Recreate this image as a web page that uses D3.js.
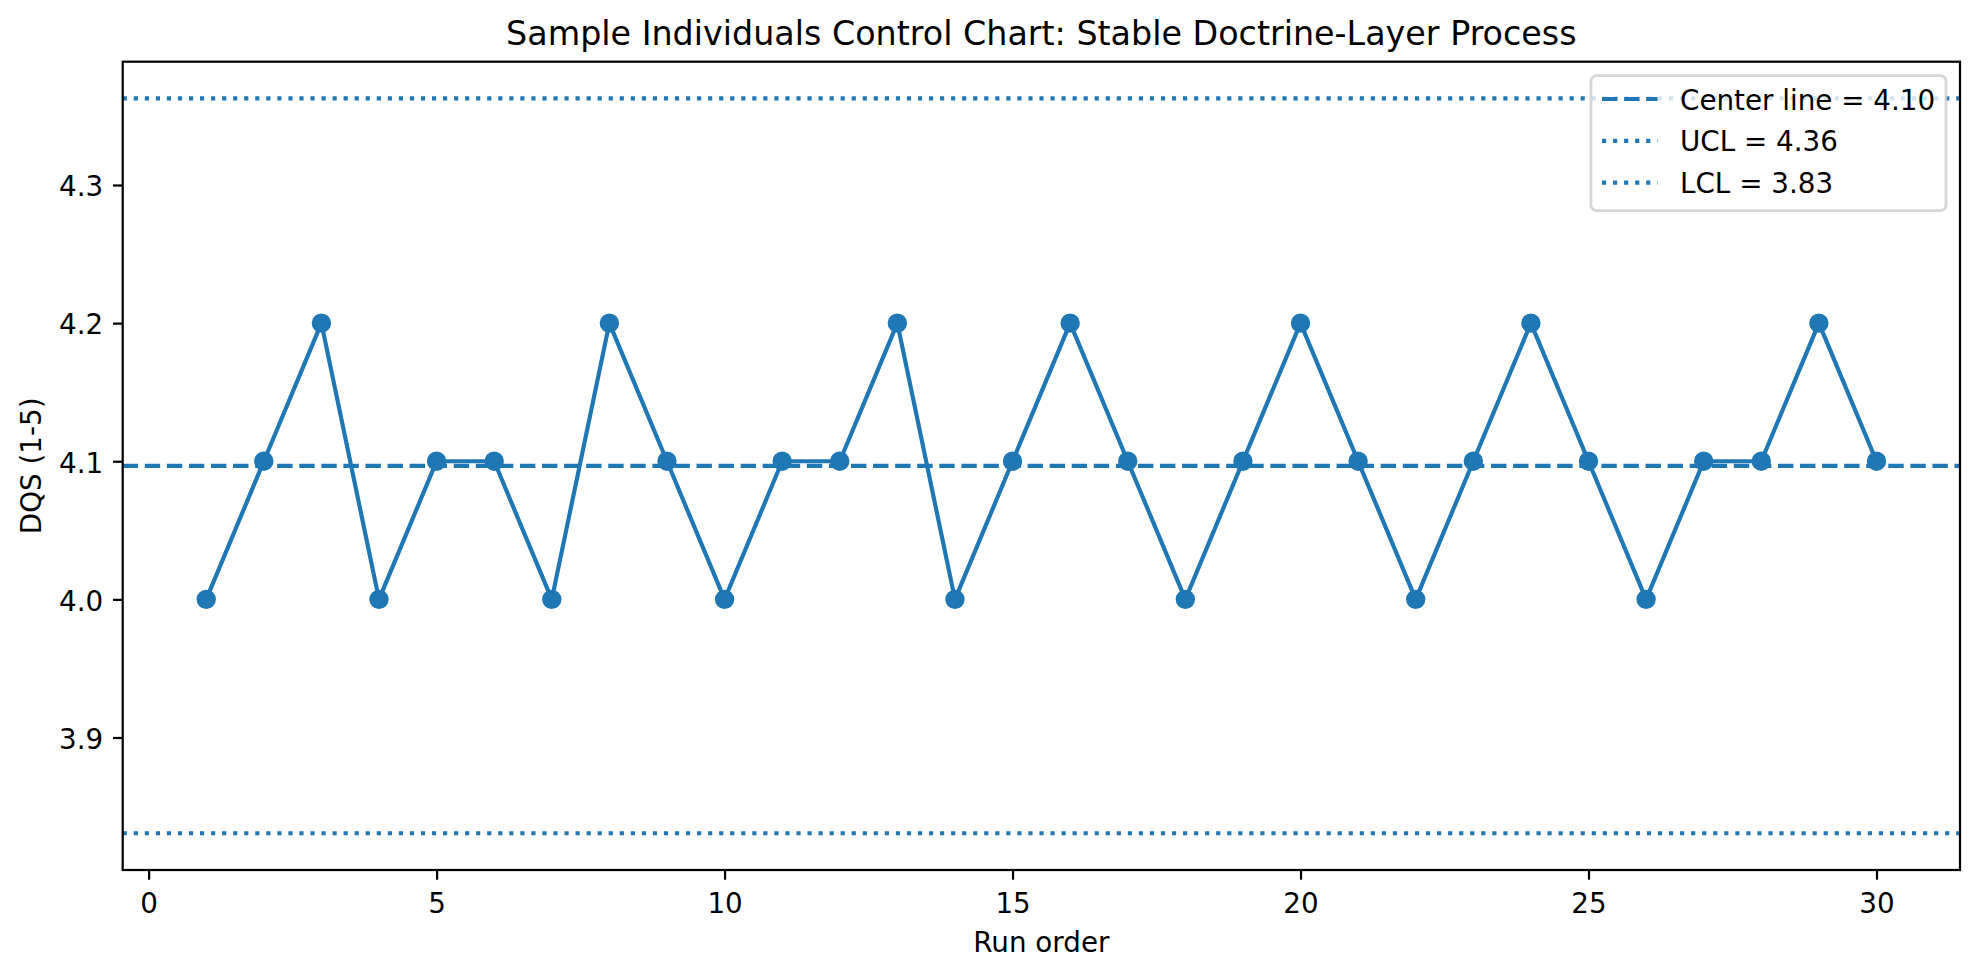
<!DOCTYPE html>
<html><head><meta charset="utf-8">
<script src="https://cdn.jsdelivr.net/npm/d3@7"></script>
<style>
html,body{margin:0;padding:0;background:#fff;}
svg{display:block;}
text{font-family:"DejaVu Sans",sans-serif;fill:#000;}
</style>
</head><body>
<svg id="chart" width="1980" height="977"></svg>
<script>
// ---- data ----
const runOrder = [1,2,3,4,5,6,7,8,9,10,11,12,13,14,15,16,17,18,19,20,21,22,23,24,25,26,27,28,29,30];
const dqsValues = [4.0,4.1,4.2,4.0,4.1,4.1,4.0,4.2,4.1,4.0,4.1,4.1,4.2,4.0,4.1,4.2,4.1,4.0,4.1,4.2,4.1,4.0,4.1,4.2,4.1,4.0,4.1,4.1,4.2,4.1];
const xTicks = [0,5,10,15,20,25,30];
const yTicks = [3.9,4.0,4.1,4.2,4.3];
const limitNames = ["Center line","UCL","LCL"];

const titleText = "Sample Individuals Control Chart: Stable Doctrine-Layer Process";
const xLabel = "Run order";
const yLabel = "DQS (1-5)";

// control limits derived from the data (individuals chart)
const centerLine = d3.mean(dqsValues);
const movingRanges = dqsValues.slice(1).map((v,i)=>Math.abs(v-dqsValues[i]));
const mrBar = d3.mean(movingRanges);
const limitValues = [centerLine, centerLine + 2.66*mrBar, centerLine - 2.66*mrBar];

// ---- layout ----
const color = "#1f77b4";
const plot = {left:122.7, right:1960, top:61.7, bottom:870};
const fs = 27.78;

const svg = d3.select("#chart");

const xPad = 0.05*(d3.max(runOrder)-d3.min(runOrder));
const x = d3.scaleLinear()
  .domain([d3.min(runOrder)-xPad, d3.max(runOrder)+xPad])
  .range([plot.left, plot.right]);
const allY = dqsValues.concat(limitValues);
const yPad = 0.05*(d3.max(allY)-d3.min(allY));
const y = d3.scaleLinear()
  .domain([d3.min(allY)-yPad, d3.max(allY)+yPad])
  .range([plot.bottom, plot.top]);

svg.append("defs").append("clipPath").attr("id","clip")
  .append("rect").attr("x",plot.left).attr("y",plot.top)
  .attr("width",plot.right-plot.left).attr("height",plot.bottom-plot.top);

const g = svg.append("g").attr("clip-path","url(#clip)");

// data line
const pts = runOrder.map((r,i)=>[r,dqsValues[i]]);
g.append("path")
  .datum(pts)
  .attr("d", d3.line().x(d=>x(d[0])).y(d=>y(d[1])))
  .attr("fill","none").attr("stroke",color)
  .attr("stroke-width",4.17).attr("stroke-linejoin","round");
g.selectAll("circle.pt").data(pts).enter().append("circle")
  .attr("class","pt")
  .attr("cx",d=>x(d[0])).attr("cy",d=>y(d[1])).attr("r",8.33)
  .attr("fill",color).attr("stroke",color).attr("stroke-width",2.78);

// limit lines
const dashes = ["15.4,6.67","4.17,6.875","4.17,6.875"];
g.selectAll("line.lim").data(limitValues).enter().append("line")
  .attr("class","lim")
  .attr("x1",plot.left).attr("x2",plot.right)
  .attr("y1",d=>y(d)).attr("y2",d=>y(d))
  .attr("stroke",color).attr("stroke-width",4.17)
  .attr("stroke-dasharray",(d,i)=>dashes[i]);

// axes
const xAxis = svg.append("g").attr("transform",`translate(0,${plot.bottom})`)
  .call(d3.axisBottom(x).tickValues(xTicks).tickFormat(d3.format("d")).tickSize(9.72).tickSizeOuter(0));
xAxis.select(".domain").remove();
xAxis.selectAll(".tick line").attr("stroke","#000").attr("stroke-width",2.22);
xAxis.selectAll(".tick text").attr("y",43).attr("dy",null)
  .style("font-size",fs+"px").style("font-family","DejaVu Sans").attr("fill","#000");

const yAxis = svg.append("g").attr("transform",`translate(${plot.left},0)`)
  .call(d3.axisLeft(y).tickValues(yTicks).tickFormat(d3.format(".1f")).tickSize(9.72).tickSizeOuter(0).tickPadding(9.72));
yAxis.select(".domain").remove();
yAxis.selectAll(".tick line").attr("stroke","#000").attr("stroke-width",2.22);
yAxis.selectAll(".tick text").attr("dy","0.39em")
  .style("font-size",fs+"px").style("font-family","DejaVu Sans").attr("fill","#000");

// spines
svg.append("rect").attr("x",plot.left).attr("y",plot.top)
  .attr("width",plot.right-plot.left).attr("height",plot.bottom-plot.top)
  .attr("fill","none").attr("stroke","#000").attr("stroke-width",2.22);

// labels
svg.append("text").attr("x",(plot.left+plot.right)/2).attr("y",45)
  .attr("text-anchor","middle").style("font-size","33.33px").text(titleText);
svg.append("text").attr("x",(plot.left+plot.right)/2).attr("y",951.5)
  .attr("text-anchor","middle").style("font-size",fs+"px").text(xLabel);
svg.append("text").attr("transform",`translate(41,${(plot.top+plot.bottom)/2}) rotate(-90)`)
  .attr("text-anchor","middle").style("font-size",fs+"px").text(yLabel);

// legend
const leg = svg.append("g");
leg.append("rect").attr("x",1591).attr("y",75.6).attr("width",355).attr("height",135)
  .attr("rx",5.56).attr("ry",5.56)
  .attr("fill","#fff").attr("fill-opacity",0.8)
  .attr("stroke","#cccccc").attr("stroke-opacity",0.8).attr("stroke-width",2.78);
limitNames.forEach((name,i)=>{
  const cy = 99 + i*41.8;
  leg.append("line").attr("x1",1602).attr("x2",1657.6).attr("y1",cy).attr("y2",cy)
    .attr("stroke",color).attr("stroke-width",4.17).attr("stroke-dasharray",dashes[i]);
  leg.append("text").attr("x",1680).attr("y",cy+10.5)
    .style("font-size",fs+"px").text(`${name} = ${limitValues[i].toFixed(2)}`);
});
</script>
</body></html>
